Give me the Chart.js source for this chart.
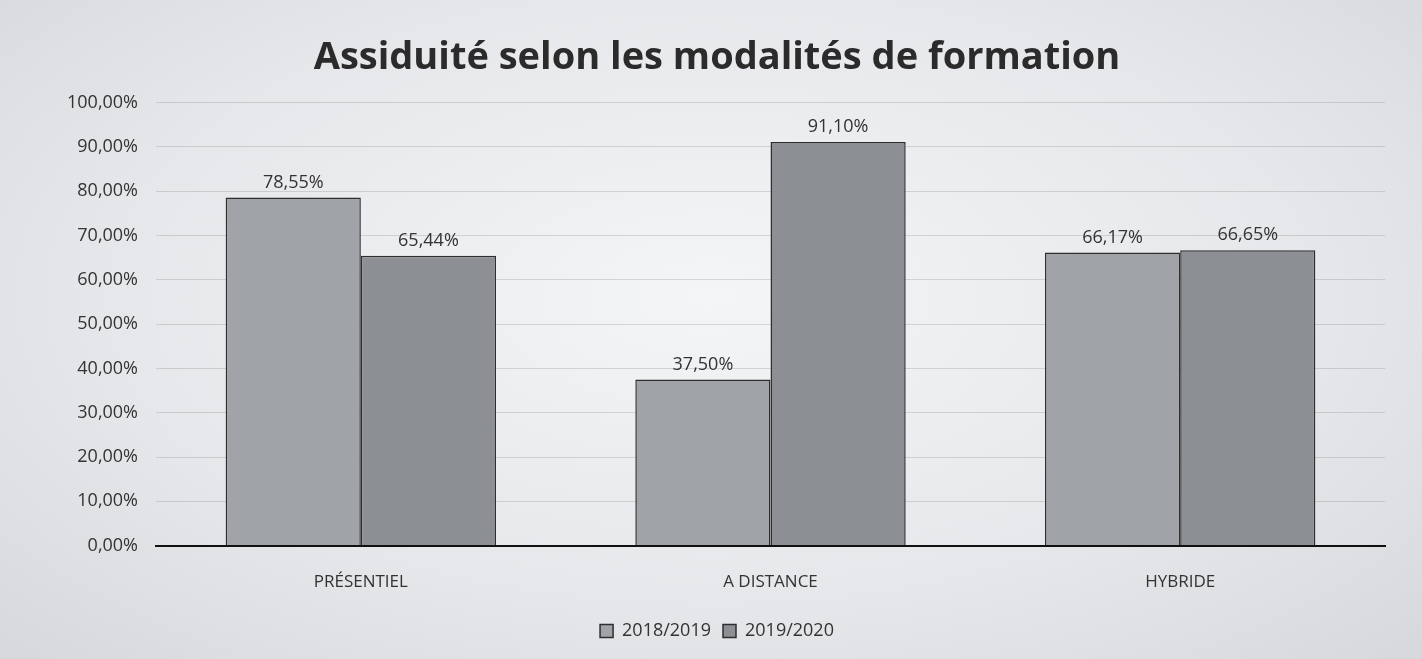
<!DOCTYPE html>
<html>
<head>
<meta charset="utf-8">
<script src="https://cdn.jsdelivr.net/npm/chart.js@4"></script>
<style>
  html, body { margin: 0; padding: 0; }
  body {
    width: 1422px; height: 659px; overflow: hidden;
    background: radial-gradient(ellipse at 50% 45%, #f4f5f7 0%, #e6e7ea 60%, #d6d8dc 100%);
  }
  #wrap { position: absolute; left: 0; top: 0; width: 1422px; height: 659px; }
</style>
</head>
<body>
<div id="wrap"><canvas id="grafico" width="1422" height="659"></canvas></div>
<script>
const categories = ['PRÉSENTIEL', 'A DISTANCE', 'HYBRIDE'];
const serie2018 = [78.55, 37.50, 66.17];
const serie2019 = [65.44, 91.10, 66.65];
const yTicks = [0, 10, 20, 30, 40, 50, 60, 70, 80, 90, 100];

const police = '"Open Sans", "DejaVu Sans", sans-serif';

function formatPct(v) {
  return v.toFixed(2).replace('.', ',') + '%';
}

// etiquettes de valeur au-dessus des barres
const etiquettes = {
  id: 'etiquettes',
  afterDatasetsDraw(chart) {
    const ctx = chart.ctx;
    ctx.save();
    ctx.font = '18px ' + police;
    ctx.fillStyle = '#333';
    ctx.textAlign = 'center';
    ctx.textBaseline = 'bottom';
    chart.data.datasets.forEach((ds, i) => {
      chart.getDatasetMeta(i).data.forEach((bar, j) => {
        ctx.fillText(formatPct(ds.data[j]), bar.x, bar.y - 6);
      });
    });
    ctx.restore();
  }
};

const ctx = document.getElementById('grafico').getContext('2d');
new Chart(ctx, {
  type: 'bar',
  data: {
    labels: categories,
    datasets: [
      {
        label: '2018/2019',
        data: serie2018,
        backgroundColor: '#a0a3a7',
        borderColor: '#2e2e2e',
        borderWidth: 1.5
      },
      {
        label: '2019/2020',
        data: serie2019,
        backgroundColor: '#8c8f93',
        borderColor: '#2e2e2e',
        borderWidth: 1.5
      }
    ]
  },
  options: {
    responsive: false,
    animation: false,
    layout: { padding: { left: 49, right: 37, top: 10, bottom: 9 } },
    datasets: { bar: { categoryPercentage: 0.66, barPercentage: 1.0 } },
    plugins: {
      title: {
        display: true,
        text: 'Assiduité selon les modalités de formation',
        color: '#2b2b2b',
        font: { family: police, size: 38, weight: 'bold' },
        padding: { top: 25, bottom: 22 }
      },
      legend: {
        position: 'bottom',
        labels: {
          color: '#333',
          font: { family: police, size: 18 },
          boxWidth: 13,
          boxHeight: 13,
          padding: 12
        }
      },
      tooltip: { enabled: false }
    },
    scales: {
      x: {
        grid: { display: false },
        border: { color: '#111', width: 2 },
        ticks: {
          color: '#333',
          font: { family: police, size: 17 },
          padding: 18
        }
      },
      y: {
        min: 0,
        max: 100,
        afterBuildTicks: axis => { axis.ticks = yTicks.map(v => ({ value: v })); },
        grid: { color: 'rgba(120,120,120,0.25)', drawTicks: false },
        border: { display: false },
        ticks: {
          color: '#333',
          font: { family: police, size: 18 },
          padding: 18,
          callback: v => formatPct(v)
        }
      }
    }
  },
  plugins: [etiquettes]
});
</script>
</body>
</html>
